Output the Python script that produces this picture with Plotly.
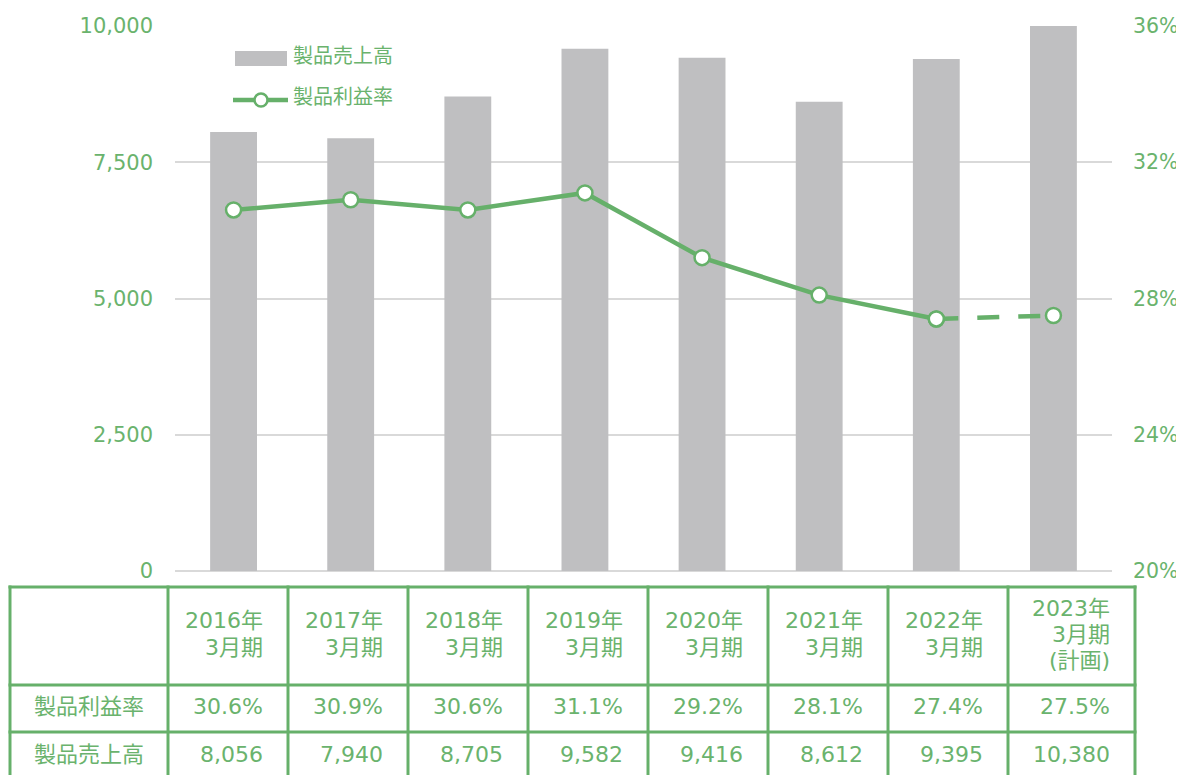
import plotly.graph_objects as go

# ---- data ----
years = ["2016年", "2017年", "2018年", "2019年", "2020年", "2021年", "2022年", "2023年"]
period_suffix = [["3月期"], ["3月期"], ["3月期"], ["3月期"], ["3月期"], ["3月期"], ["3月期"], ["3月期", "(計画)"]]
sales = [8056, 7940, 8705, 9582, 9416, 8612, 9395, 10380]          # 製品売上高
margin = [30.6, 30.9, 30.6, 31.1, 29.2, 28.1, 27.4, 27.5]          # 製品利益率 (%)
left_ticks = [0, 2500, 5000, 7500, 10000]
right_ticks = [0.20, 0.24, 0.28, 0.32, 0.36]
row_labels = ["製品利益率", "製品売上高"]
legend_labels = ["製品売上高", "製品利益率"]

# ---- style ----
GREEN = "#6AB36D"
LINE_GREEN = "#66B06A"
GRAY_BAR = "#BFBFC1"
GRID = "#D9D9D9"
FONT = "DejaVu Sans, Noto Sans CJK JP, sans-serif"
OFF = 8                      # page body margin
W, H = 1184 - OFF, 775
L, R, T, B = 175, 1112, 26, 571   # plot area in page pixels

def px_x(px):
    return (px - L) / (R - L)

def px_y(py):
    return (B - py) / (B - T)

xs = list(range(len(years)))
mk = dict(size=15, color="white", line=dict(color=LINE_GREEN, width=2.5))

fig = go.Figure()
fig.add_trace(go.Bar(x=xs, y=sales, marker=dict(color=GRAY_BAR, line=dict(width=0)),
                     width=0.4, name=legend_labels[0], showlegend=False))
# solid part (actual results)
fig.add_trace(go.Scatter(x=xs[:-1], y=[m / 100 for m in margin[:-1]], yaxis="y2",
                         mode="lines+markers", line=dict(color=LINE_GREEN, width=4.5),
                         marker=mk, showlegend=False, cliponaxis=False))
# dashed part (plan)
fig.add_trace(go.Scatter(x=xs[-2:], y=[m / 100 for m in margin[-2:]], yaxis="y2",
                         mode="lines", line=dict(color=LINE_GREEN, width=4.5, dash="22px,19px"),
                         showlegend=False, cliponaxis=False))
fig.add_trace(go.Scatter(x=xs[-2:], y=[m / 100 for m in margin[-2:]], yaxis="y2",
                         mode="markers", marker=mk, showlegend=False, cliponaxis=False))

shapes = []
annotations = []

# ---- manual legend ----
shapes.append(dict(type="rect", xref="paper", yref="paper",
                   x0=px_x(235), x1=px_x(287), y0=px_y(66), y1=px_y(51),
                   fillcolor=GRAY_BAR, line=dict(width=0)))
annotations.append(dict(xref="paper", yref="paper", x=px_x(291), y=px_y(56),
                        text=legend_labels[0], showarrow=False, xanchor="left", yanchor="middle",
                        font=dict(size=20, color=GREEN, family=FONT)))
shapes.append(dict(type="line", xref="paper", yref="paper",
                   x0=px_x(233), x1=px_x(288), y0=px_y(100), y1=px_y(100),
                   line=dict(color=LINE_GREEN, width=4.5)))
shapes.append(dict(type="circle", xref="paper", yref="paper",
                   x0=px_x(254.5), x1=px_x(267.5), y0=px_y(106.5), y1=px_y(93.5),
                   fillcolor="white", line=dict(color=LINE_GREEN, width=2.5)))
annotations.append(dict(xref="paper", yref="paper", x=px_x(291), y=px_y(97),
                        text=legend_labels[1], showarrow=False, xanchor="left", yanchor="middle",
                        font=dict(size=20, color=GREEN, family=FONT)))

# ---- data table below the chart ----
col_edges = [10, 168, 288, 408, 528, 648, 768, 888, 1008, 1135]
row_edges = [587, 685, 732, 790]
for cx in col_edges:
    shapes.append(dict(type="line", xref="paper", yref="paper",
                       x0=px_x(cx), x1=px_x(cx), y0=px_y(row_edges[0] - 1.5), y1=px_y(row_edges[-1]),
                       line=dict(color=LINE_GREEN, width=3)))
for ry in row_edges[:-1]:
    shapes.append(dict(type="line", xref="paper", yref="paper",
                       x0=px_x(col_edges[0] - 1.5), x1=px_x(col_edges[-1] + 1.5), y0=px_y(ry), y1=px_y(ry),
                       line=dict(color=LINE_GREEN, width=3)))

tfont = dict(size=22, color=GREEN, family=FONT)
header_center = 634
line_gap = 26
row_centers = [706, 754]
for i in range(len(years)):
    right = col_edges[i + 2] - 23
    lines = [years[i]] + period_suffix[i]
    n = len(lines)
    for k, ln in enumerate(lines):
        cy = header_center + (k - (n - 1) / 2) * line_gap
        annotations.append(dict(xref="paper", yref="paper", x=px_x(right), y=px_y(cy),
                                text=ln, showarrow=False, xanchor="right", yanchor="middle",
                                font=tfont))
    annotations.append(dict(xref="paper", yref="paper", x=px_x(right), y=px_y(row_centers[0]),
                            text=f"{margin[i]:.1f}%", showarrow=False,
                            xanchor="right", yanchor="middle", font=tfont))
    annotations.append(dict(xref="paper", yref="paper", x=px_x(right), y=px_y(row_centers[1]),
                            text=f"{sales[i]:,}", showarrow=False,
                            xanchor="right", yanchor="middle", font=tfont))
for j, lab in enumerate(row_labels):
    annotations.append(dict(xref="paper", yref="paper", x=px_x((col_edges[0] + col_edges[1]) / 2),
                            y=px_y(row_centers[j]), text=lab, showarrow=False,
                            xanchor="center", yanchor="middle", font=tfont))

fig.update_layout(
    width=W, height=H, autosize=False,
    margin=dict(l=L - OFF, r=(W + OFF) - R, t=T - OFF, b=H - (B - OFF), autoexpand=False),
    paper_bgcolor="white", plot_bgcolor="white",
    font=dict(family=FONT, color=GREEN, size=20),
    xaxis=dict(range=[-0.5, len(years) - 0.5], showticklabels=False, showgrid=False,
               zeroline=False, showline=False, ticks="", automargin=False),
    yaxis=dict(range=[0, 10000], tickvals=left_ticks, tickformat=",", showgrid=True,
               gridcolor=GRID, gridwidth=1.5, zeroline=True, zerolinecolor=GRID, zerolinewidth=1.5,
               showline=False, ticks="", ticklabelstandoff=21, automargin=False,
               tickfont=dict(size=21, color=GREEN, family=FONT)),
    yaxis2=dict(range=[0.20, 0.36], tickvals=right_ticks, tickformat=".0%", overlaying="y",
                side="right", showgrid=False, zeroline=False, showline=False, ticks="",
                ticklabelstandoff=20, automargin=False,
                tickfont=dict(size=20.5, color=GREEN, family=FONT)),
    shapes=shapes, annotations=annotations, showlegend=False,
)

fig.write_html("out.html")
